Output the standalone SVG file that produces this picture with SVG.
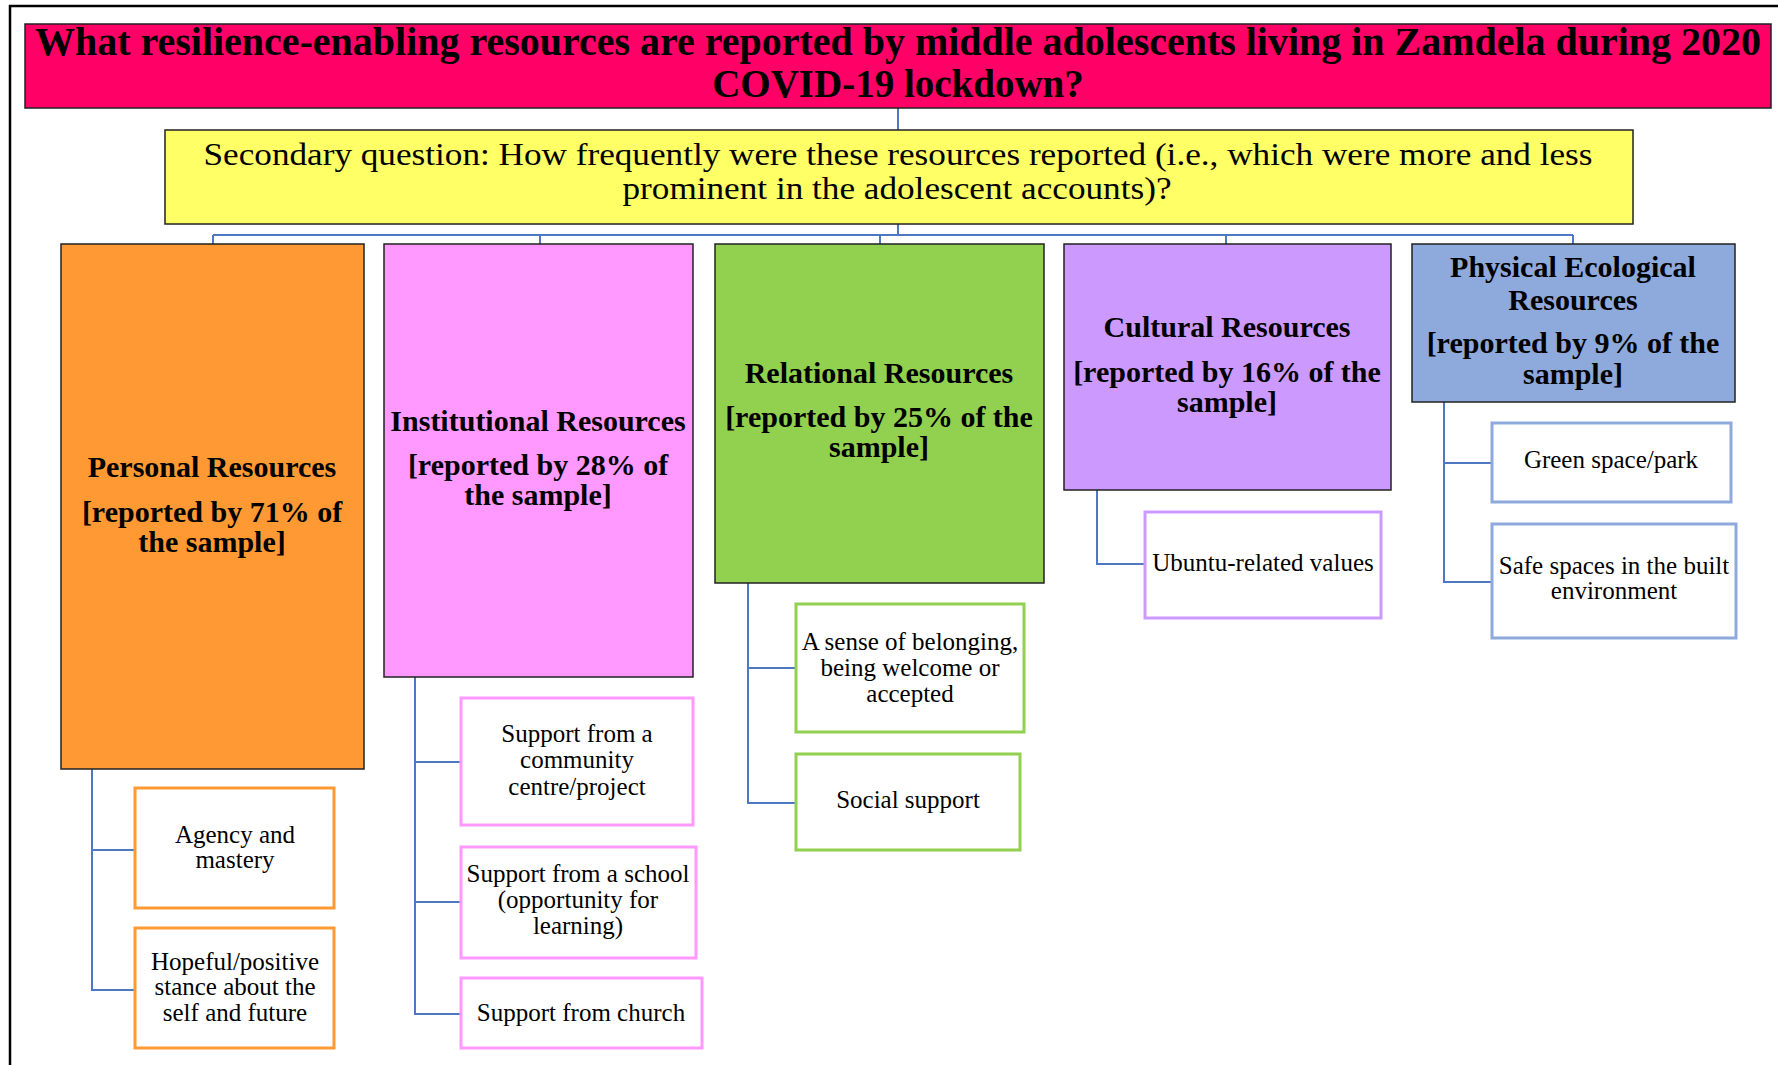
<svg xmlns="http://www.w3.org/2000/svg" width="1778" height="1065" viewBox="0 0 1778 1065">
<style>
.frame{stroke:#000;stroke-width:2.5;fill:none}
.cat{stroke:#222;stroke-width:1.5}
.sub{fill:#fff;stroke-width:3}
.conn{stroke:#4F78C4;stroke-width:2;fill:none}
text{font-family:"Liberation Serif","Times New Roman",serif;fill:#000;text-anchor:middle}
.t{font-weight:bold;font-size:39px}
.y{font-size:32px}
.h{font-weight:bold;font-size:30px}
.s{font-size:25px}
</style>
<rect width="1778" height="1065" fill="#fff"/>
<path class="frame" d="M10,1065 V6 H1778"/>
<g id="connectors">
<path class="conn" d="M898,108 V130 M898,224 V235 M213,235 H1573 M213,235 V244 M540,235 V244 M880,235 V244 M1226,235 V244 M1573,235 V244"/>
<path class="conn" d="M92,769 V990 H135 M92,850 H135"/>
<path class="conn" d="M415,677 V1014 H461 M415,762 H461 M415,902 H461"/>
<path class="conn" d="M748,583 V803 H796 M748,668 H796"/>
<path class="conn" d="M1097,490 V564 H1145"/>
<path class="conn" d="M1444,402 V582 H1492 M1444,463 H1492"/>
</g>
<g id="title">
<rect x="25" y="24" width="1746" height="84" fill="#FF0066" class="cat"/>
<text class="t" x="898" y="55" textLength="1726" lengthAdjust="spacingAndGlyphs">What resilience-enabling resources are reported by middle adolescents living in Zamdela during 2020</text>
<text class="t" x="898" y="97">COVID-19 lockdown?</text>
</g>
<g id="secondary">
<rect x="165" y="130" width="1468" height="94" fill="#FFFF66" class="cat"/>
<text class="y" x="898" y="165" textLength="1389" lengthAdjust="spacingAndGlyphs">Secondary question: How frequently were these resources reported (i.e., which were more and less</text>
<text class="y" x="897" y="199" textLength="549" lengthAdjust="spacingAndGlyphs">prominent in the adolescent accounts)?</text>
</g>
<g id="personal">
<rect x="61" y="244" width="303" height="525" fill="#FF9933" class="cat"/>
<text class="h" x="212" y="477">Personal Resources</text>
<text class="h" x="212" y="522">[reported by 71% of</text>
<text class="h" x="212" y="552">the sample]</text>
</g>
<g id="institutional">
<rect x="384" y="244" width="309" height="433" fill="#FF99FF" class="cat"/>
<text class="h" x="538" y="431">Institutional Resources</text>
<text class="h" x="538" y="475">[reported by 28% of</text>
<text class="h" x="538" y="505">the sample]</text>
</g>
<g id="relational">
<rect x="715" y="244" width="329" height="339" fill="#92D050" class="cat"/>
<text class="h" x="879" y="383">Relational Resources</text>
<text class="h" x="879" y="427">[reported by 25% of the</text>
<text class="h" x="879" y="457">sample]</text>
</g>
<g id="cultural">
<rect x="1064" y="244" width="327" height="246" fill="#CC99FF" class="cat"/>
<text class="h" x="1227" y="337">Cultural Resources</text>
<text class="h" x="1227" y="382">[reported by 16% of the</text>
<text class="h" x="1227" y="412">sample]</text>
</g>
<g id="physical">
<rect x="1412" y="244" width="323" height="158" fill="#8EA9DB" class="cat"/>
<text class="h" x="1573" y="277">Physical Ecological</text>
<text class="h" x="1573" y="310">Resources</text>
<text class="h" x="1573" y="353">[reported by 9% of the</text>
<text class="h" x="1573" y="384">sample]</text>
</g>
<g id="agency">
<rect x="135" y="788" width="199" height="120" class="sub" stroke="#FF9933"/>
<text class="s" x="235" y="843">Agency and</text>
<text class="s" x="235" y="868">mastery</text>
</g>
<g id="hopeful">
<rect x="135" y="928" width="199" height="120" class="sub" stroke="#FF9933"/>
<text class="s" x="235" y="970">Hopeful/positive</text>
<text class="s" x="235" y="995">stance about the</text>
<text class="s" x="235" y="1021">self and future</text>
</g>
<g id="community">
<rect x="461" y="698" width="232" height="127" class="sub" stroke="#FF99FF"/>
<text class="s" x="577" y="742">Support from a</text>
<text class="s" x="577" y="768">community</text>
<text class="s" x="577" y="795">centre/project</text>
</g>
<g id="school">
<rect x="461" y="847" width="235" height="111" class="sub" stroke="#FF99FF"/>
<text class="s" x="578" y="882">Support from a school</text>
<text class="s" x="578" y="908">(opportunity for</text>
<text class="s" x="578" y="934">learning)</text>
</g>
<g id="church">
<rect x="461" y="978" width="241" height="70" class="sub" stroke="#FF99FF"/>
<text class="s" x="581" y="1021">Support from church</text>
</g>
<g id="belonging">
<rect x="796" y="604" width="228" height="128" class="sub" stroke="#92D050"/>
<text class="s" x="910" y="650">A sense of belonging,</text>
<text class="s" x="910" y="676">being welcome or</text>
<text class="s" x="910" y="702">accepted</text>
</g>
<g id="social">
<rect x="796" y="754" width="224" height="96" class="sub" stroke="#92D050"/>
<text class="s" x="908" y="808">Social support</text>
</g>
<g id="ubuntu">
<rect x="1145" y="512" width="236" height="106" class="sub" stroke="#CC99FF"/>
<text class="s" x="1263" y="571">Ubuntu-related values</text>
</g>
<g id="green">
<rect x="1492" y="423" width="239" height="79" class="sub" stroke="#8EA9DB"/>
<text class="s" x="1611" y="468">Green space/park</text>
</g>
<g id="safe">
<rect x="1492" y="524" width="244" height="114" class="sub" stroke="#8EA9DB"/>
<text class="s" x="1614" y="574">Safe spaces in the built</text>
<text class="s" x="1614" y="599">environment</text>
</g>
</svg>
